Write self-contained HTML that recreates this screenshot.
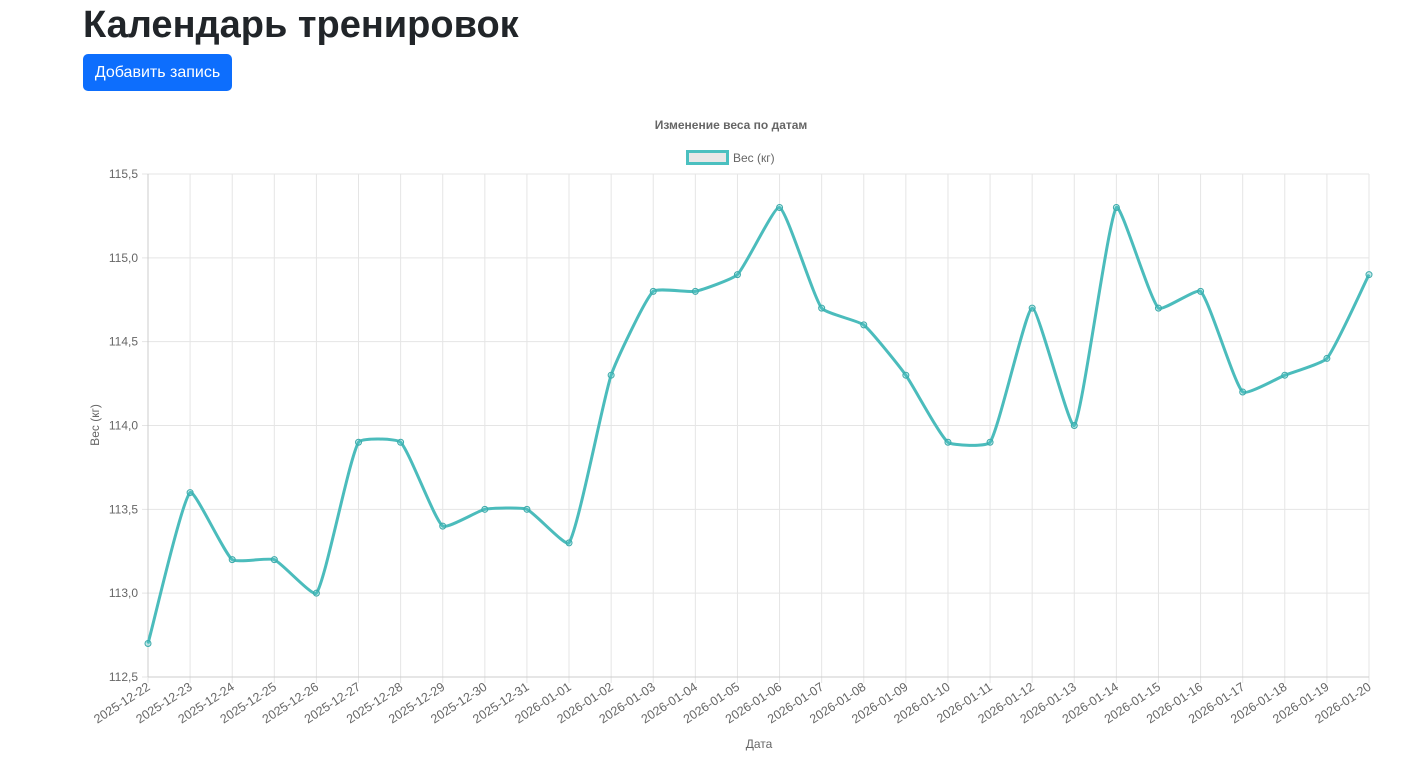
<!DOCTYPE html>
<html><head><meta charset="utf-8"><style>
body{margin:0;background:#fff;width:1421px;height:778px;overflow:hidden;font-family:"Liberation Sans",sans-serif;}
h1{position:absolute;left:83px;top:1px;margin:0;font-size:38px;font-weight:700;color:#212529;line-height:48px;}
.btn{position:absolute;left:83px;top:54px;width:149px;height:37px;background:#0d6efd;border-radius:5px;color:#fff;font-size:16px;line-height:37px;text-align:center}
svg{position:absolute;left:0;top:0}
</style></head><body>
<h1>Календарь тренировок</h1>
<div class="btn">Добавить запись</div>
<svg id="c" width="1421" height="778" xmlns="http://www.w3.org/2000/svg" font-family="Liberation Sans, sans-serif"></svg>
<script>
const vals=[112.7,113.6,113.2,113.2,113.0,113.9,113.9,113.4,113.5,113.5,113.3,114.3,114.8,114.8,114.9,115.3,114.7,114.6,114.3,113.9,113.9,114.7,114.0,115.3,114.7,114.8,114.2,114.3,114.4,114.9];
const labels=[];for(let d=22;d<=31;d++)labels.push('2025-12-'+d);for(let d=1;d<=20;d++)labels.push('2026-01-'+String(d).padStart(2,'0'));
const x0=148,x1=1369,yT=174,yB=677;
const X=i=>x0+(x1-x0)*i/29, Y=v=>yB-(v-112.5)/3*(yB-yT);
let s='';
for(let i=0;i<30;i++){s+=`<line x1="${X(i)}" y1="${yT}" x2="${X(i)}" y2="${yB+6}" stroke="#e5e5e5"/>`;}
for(let k=0;k<=6;k++){const v=112.5+k*0.5,y=Y(v);s+=`<line x1="${x0-6}" y1="${y}" x2="${x1}" y2="${y}" stroke="#e5e5e5"/>`;s+=`<text x="${x0-10}" y="${y+4}" font-size="12" fill="#666" text-anchor="end">${v.toFixed(1).replace('.',',')}</text>`;}
s+=`<line x1="${x0}" y1="${yT}" x2="${x0}" y2="${yB}" stroke="#ccc"/><line x1="${x0}" y1="${yB}" x2="${x1}" y2="${yB}" stroke="#ccc"/>`;
for(let i=0;i<30;i++){const x=X(i)+3,y=yB+12;s+=`<text transform="translate(${x},${y}) rotate(-33)" font-size="12.5" fill="#666" text-anchor="end">${labels[i]}</text>`;}
const P=vals.map((v,i)=>({x:X(i),y:Y(v)}));const t=0.15;const cps=P.map((c,i)=>{const p=P[i-1]||c,n=P[i+1]||c;const d01=Math.hypot(c.x-p.x,c.y-p.y),d12=Math.hypot(n.x-c.x,n.y-c.y);let s01=d01/(d01+d12),s12=d12/(d01+d12);if(isNaN(s01))s01=0;if(isNaN(s12))s12=0;const fa=t*s01,fb=t*s12;return{px:c.x-fa*(n.x-p.x),py:c.y-fa*(n.y-p.y),nx:c.x+fb*(n.x-p.x),ny:c.y+fb*(n.y-p.y)};});
let d=`M${P[0].x},${P[0].y}`;for(let i=1;i<30;i++){d+=` C${cps[i-1].nx},${cps[i-1].ny} ${cps[i].px},${cps[i].py} ${P[i].x},${P[i].y}`;}
s+=`<path d="${d}" fill="none" stroke="rgb(75,188,188)" stroke-width="3"/>`;
P.forEach(p=>{s+=`<circle cx="${p.x}" cy="${p.y}" r="3" fill="rgba(75,192,192,0.3)" stroke="rgb(60,170,170)" stroke-width="1"/>`;});
s+=`<text x="731" y="129" font-size="12" font-weight="bold" fill="#666" text-anchor="middle">Изменение веса по датам</text>`;
s+=`<rect x="687.5" y="151.5" width="40" height="12" fill="#e8e8e8" stroke="rgb(75,192,192)" stroke-width="3"/>`;
s+=`<text x="733" y="162" font-size="12" fill="#666">Вес (кг)</text>`;
s+=`<text transform="translate(99,425) rotate(-90)" font-size="12" fill="#666" text-anchor="middle">Вес (кг)</text>`;
s+=`<text x="759" y="748" font-size="12" fill="#666" text-anchor="middle">Дата</text>`;
document.getElementById('c').innerHTML=s;
</script>
</body></html>
